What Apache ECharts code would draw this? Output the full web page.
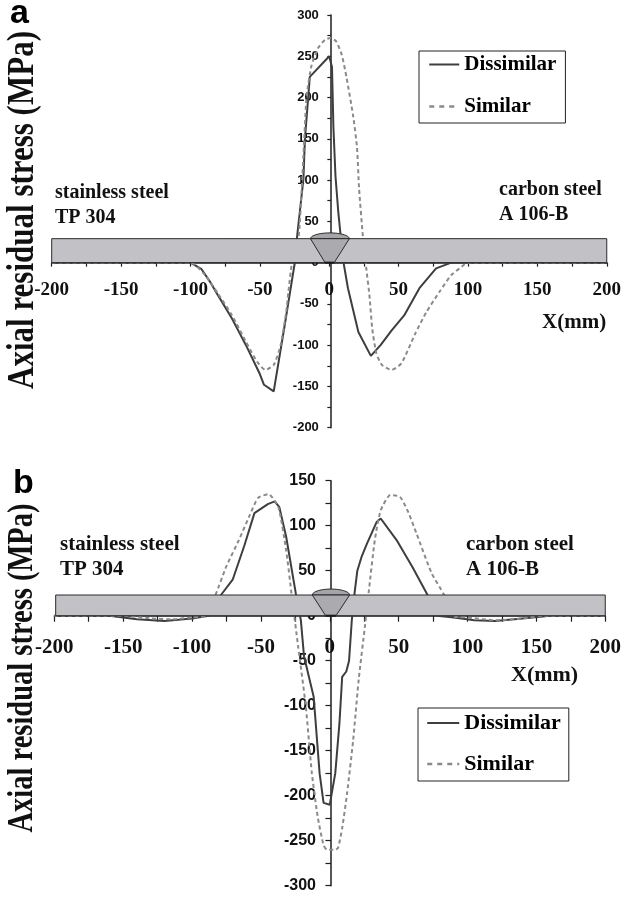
<!DOCTYPE html>
<html>
<head>
<meta charset="utf-8">
<script src="https://cdn.jsdelivr.net/npm/echarts@6/dist/echarts.min.js"></script>
<style>
  html, body { margin: 0; padding: 0; background: #fff; }
  #chart { width: 624px; height: 897px; }
</style>
</head>
<body>
<div id="chart"></div>
<script>
// panel a - axial residual stress, dissimilar weld (solid) and similar weld (dashed)
const xDisA = [-200, -100, -92, -86, -80, -70, -60, -50, -47, -40, -32, -24.8, -23.4, -18.6, -17.5, -14, 0, 2, 3, 4.5, 6.5, 8.5, 10, 13.5, 21, 30, 37, 45, 54, 65, 77, 88, 200]
const yDisA = [0, 0, -8, -23, -40, -68, -100, -135, -148, -156, -75, 0, 28, 101, 150, 225, 250, 237, 165, 105, 62, 28, 3, -31, -84, -113, -100, -82, -64, -31, -7, 0, 0]
const xSimA = [-200, -100, -90, -80, -70, -60, -52, -46, -40, -35, -31, -29.4, -26.8, -22.2, -19.8, -18, -16.2, -12.7, -8, -3, 1, 5, 9, 12.4, 17.2, 20, 21.5, 24.4, 26.7, 29, 31, 34, 38, 45, 52, 62, 70, 79.6, 88, 94, 100, 200]
const ySimA = [0, 0, -14, -38, -64, -96, -120, -130, -124, -100, -60, -35, 0, 29, 90, 150, 203, 239, 260, 270, 272, 268, 252, 225, 178, 140, 90, 29, -7, -40, -80, -110, -124, -130, -122, -86, -60, -35, -15, -7, 0, 0]

// panel b
const xDisB = [-200, -160, -140, -120, -100, -88, -82, -79, -70.5, -62, -54.7, -45, -40, -36.7, -31.7, -24.7, -21, -18.7, -11.7, -7.4, -4.5, 0, 4, 7, 9, 12, 14, 16, 18, 20, 23, 27, 34, 37, 48.5, 60, 71, 78, 90, 105, 120, 140, 160, 200]
const yDisB = [0, 0, -4, -6, -3, 0, 15, 23, 40, 78, 114, 124, 127, 121, 88, 25, -5, -45, -90, -175, -208, -210, -175, -120, -68, -62, -50, -5, 25, 50, 65, 80, 104, 108, 84, 54, 23, 0, -2, -5, -6, -3, 0, 0]
const xSimB = [-200, -150, -130, -115, -100, -90, -83, -75, -66, -58, -52, -44.6, -37.4, -31.7, -27.5, -23, -17.4, -13, -8.8, -4.5, -2, 4, 6, 9, 12.6, 17, 21, 25.5, 28.4, 32.7, 37, 44, 51, 57, 62.8, 74, 83, 88, 100, 120, 140, 155, 200]
const ySimB = [0, 0, -3, -4, -2, 0, 23, 55, 84, 112, 131, 135, 121, 73, 21, -34, -101, -175, -223, -255, -260, -260, -258, -236, -197, -138, -71, -12, 28, 84, 117, 134, 132, 115, 92, 47, 23, 0, -2, -5, -3, 0, 0]

// axis ranges / ticks
const xRange = [-200, 200]
const yRangeA = [-200, 300]
const yRangeB = [-300, 150]
const tickStep = 50

// pipe wall sketch in data units: [xmin, xmax, ymin, ymax], weld groove top/bottom x, cap height
const plateA = [-200, 200, 0, 29]
const grooveTopA = [-13.5, 14.5]
const grooveBotA = [-3, 3.6]
const capA = 36
const plateB = [-199, 200, 0, 23]
const grooveTopB = [-12.7, 14.4]
const grooveBotB = [-3, 4.5]
const capB = 29.6

const legendNames = ['Dissimilar', 'Similar']

const zip = (xs, ys) => xs.map((x, i) => [x, ys[i]])

const serif = 'Liberation Serif'
const sans = 'Liberation Sans'
const axisColor = '#1e1e1e'

const gridA = { left: 51.7, top: 15, width: 558.3, height: 412.7 }
const gridB = { left: 54.3, top: 480.7, width: 553.3, height: 405 }

// axes cross at the origin: shift them into the plot by the zero position
const zeroShift = (size, range) => -size * (0 - range[0]) / (range[1] - range[0])

function weldSketch(plate, top, bot, cap) {
  return function (params, api) {
    const p0 = api.coord([plate[0], plate[3]])
    const p1 = api.coord([plate[1], plate[2]])
    const t0 = api.coord([top[0], plate[3]])
    const t1 = api.coord([top[1], plate[3]])
    const b0 = api.coord([bot[0], plate[2]])
    const b1 = api.coord([bot[1], plate[2]])
    const capY = api.coord([0, cap])[1]
    const cx = (t0[0] + t1[0]) / 2
    const rx = (t1[0] - t0[0]) / 2
    const ry = t0[1] - capY
    const capPts = []
    for (let i = 0; i <= 30; i++) {
      const a = Math.PI * i / 30
      capPts.push([cx - rx * Math.cos(a), t0[1] - ry * Math.sin(a)])
    }
    return {
      type: 'group',
      children: [
        {
          type: 'rect',
          shape: { x: p0[0], y: p0[1], width: p1[0] - p0[0], height: p1[1] - p0[1] },
          style: { fill: '#c2c2c6', stroke: '#2a2a2a', lineWidth: 1 }
        },
        {
          type: 'polygon',
          shape: { points: capPts },
          style: { fill: '#a6a6aa', stroke: '#2a2a2a', lineWidth: 1 }
        },
        {
          type: 'polygon',
          shape: { points: [t0, t1, b1, b0] },
          style: { fill: '#ababaf', stroke: '#2a2a2a', lineWidth: 1 }
        },
        {
          type: 'line',
          shape: { x1: b0[0], y1: b0[1], x2: b1[0], y2: b1[1] },
          style: { stroke: '#1a1a1a', lineWidth: 2 }
        }
      ]
    }
  }
}

function makeX(gridIndex, yRange, grid, fontSize, margin, tickLen) {
  return {
    type: 'value',
    gridIndex: gridIndex,
    min: xRange[0],
    max: xRange[1],
    interval: tickStep,
    offset: zeroShift(grid.height, yRange),
    axisLine: { onZero: false, lineStyle: { color: axisColor, width: 1.5 } },
    axisTick: { length: tickLen, lineStyle: { color: axisColor, width: 1.2 } },
    minorTick: { show: true, splitNumber: 2, length: tickLen, lineStyle: { color: axisColor, width: 1.2 } },
    splitLine: { show: false },
    axisLabel: { fontFamily: serif, fontWeight: 'bold', fontSize: fontSize, color: '#111', margin: margin }
  }
}

function makeY(gridIndex, range, grid, fontSize, margin, tickLen) {
  return {
    type: 'value',
    gridIndex: gridIndex,
    min: range[0],
    max: range[1],
    interval: tickStep,
    offset: zeroShift(grid.width, xRange),
    axisLine: { onZero: false, lineStyle: { color: axisColor, width: 1.5 } },
    axisTick: { length: tickLen, lineStyle: { color: axisColor, width: 1.2 } },
    minorTick: { show: true, splitNumber: 2, length: tickLen, lineStyle: { color: axisColor, width: 1.2 } },
    splitLine: { show: false },
    axisLabel: { fontFamily: sans, fontWeight: 'bold', fontSize: fontSize, color: '#111', margin: margin }
  }
}

function lineSeries(name, data, idx, dashed) {
  return {
    name: name,
    type: 'line',
    xAxisIndex: idx,
    yAxisIndex: idx,
    data: data,
    symbol: 'none',
    smooth: dashed ? 0.2 : false,
    z: 2,
    lineStyle: dashed
      ? { color: '#8a8a8a', width: 2, type: [4, 3] }
      : { color: '#3e3e3e', width: 2 },
    itemStyle: { color: dashed ? '#8a8a8a' : '#3e3e3e' }
  }
}

function legendBox(left, top, padding, gap, itemWidth, fontSize) {
  return {
    left: left,
    top: top,
    orient: 'vertical',
    data: [
      { name: legendNames[0] },
      { name: legendNames[1], lineStyle: { type: [5, 5], width: 2.5 } }
    ],
    selectedMode: false,
    padding: padding,
    itemGap: gap,
    itemWidth: itemWidth,
    itemHeight: 14,
    itemStyle: { opacity: 0 },
    borderColor: '#222',
    borderWidth: 1,
    textStyle: { fontFamily: serif, fontWeight: 'bold', fontSize: fontSize, color: '#000' }
  }
}

function label(text, x, y, size) {
  return {
    type: 'text',
    x: x,
    y: y,
    style: {
      text: text,
      fontFamily: serif,
      fontWeight: 'bold',
      fontSize: size,
      fill: '#111',
      verticalAlign: 'middle'
    }
  }
}

function panelLetter(text, x, y) {
  return {
    type: 'text',
    x: x,
    y: y,
    style: { text: text, fontFamily: sans, fontWeight: 'bold', fontSize: 34, fill: '#000', verticalAlign: 'middle' }
  }
}

function yTitle(y, size) {
  return {
    type: 'text',
    x: 23,
    y: y,
    rotation: Math.PI / 2,
    scaleY: 1.25,
    style: {
      text: 'Axial residual stress (MPa)',
      fontFamily: serif,
      fontWeight: 'bold',
      fontSize: size,
      fill: '#111',
      align: 'center',
      verticalAlign: 'middle'
    }
  }
}

function steelNote(text, x, y, size) {
  return {
    type: 'text',
    x: x,
    y: y,
    style: { text: text, fontFamily: serif, fontWeight: 'bold', fontSize: size, lineHeight: 25, fill: '#111', verticalAlign: 'top' }
  }
}

const option = {
  backgroundColor: '#fff',
  animation: false,
  grid: [gridA, gridB],
  xAxis: [makeX(0, yRangeA, gridA, 19, 18, 4), makeX(1, yRangeB, gridB, 21, 21, 6)],
  yAxis: [makeY(0, yRangeA, gridA, 13, 12, 3.5), makeY(1, yRangeB, gridB, 16, 15, 5.5)],
  legend: [
    legendBox(419, 51, [3, 9, 6, 9], 21, 30, 21),
    legendBox(418, 708, [4, 8, 6, 8], 19, 32, 22)
  ],
  graphic: [
    panelLetter('a', 10, 14),
    panelLetter('b', 13, 484),
    yTitle(210, 31),
    yTitle(668, 28.5),
    steelNote('stainless steel\nTP 304', 55, 180.5, 20),
    steelNote('carbon steel\nA 106-B', 499, 177, 20),
    steelNote('stainless steel\nTP 304', 60, 532.5, 21),
    steelNote('carbon steel\nA 106-B', 466, 532.5, 21),
    label('X(mm)', 542, 323, 21),
    label('X(mm)', 511, 675, 22)
  ],
  series: [
    lineSeries('Dissimilar', zip(xDisA, yDisA), 0, false),
    lineSeries('Similar', zip(xSimA, ySimA), 0, true),
    lineSeries('Dissimilar', zip(xDisB, yDisB), 1, false),
    lineSeries('Similar', zip(xSimB, ySimB), 1, true),
    {
      type: 'custom',
      xAxisIndex: 0,
      yAxisIndex: 0,
      data: [[0, 0]],
      silent: true,
      clip: false,
      z: 5,
      renderItem: weldSketch(plateA, grooveTopA, grooveBotA, capA)
    },
    {
      type: 'custom',
      xAxisIndex: 1,
      yAxisIndex: 1,
      data: [[0, 0]],
      silent: true,
      clip: false,
      z: 5,
      renderItem: weldSketch(plateB, grooveTopB, grooveBotB, capB)
    }
  ]
}

const myChart = echarts.init(document.getElementById('chart'))
myChart.setOption(option)
</script>
</body>
</html>
